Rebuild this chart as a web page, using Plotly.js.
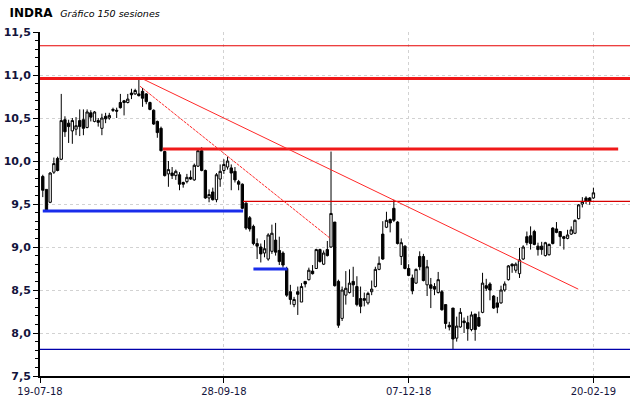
<!DOCTYPE html>
<html><head><meta charset="utf-8">
<script src="https://cdn.plot.ly/plotly-3.0.1.min.js"></script>
<style>html,body{margin:0;padding:0;background:#fff}#chart{width:640px;height:398px}</style>
</head><body><div id="chart"></div>
<script>
const openP = [9.82,9.67,9.52,9.87,10.03,10.02,10.48,10.44,10.35,10.37,10.47,10.48,10.39,10.56,10.46,10.47,10.38,10.52,10.50,10.60,
10.59,10.68,10.70,10.68,10.79,10.78,10.78,10.81,10.78,10.68,10.59,10.46,10.38,10.11,9.85,9.86,9.83,9.84,9.75,9.76,
9.81,9.78,9.94,10.12,9.89,9.57,9.64,9.55,9.79,9.89,9.93,9.92,9.88,9.76,9.73,9.51,9.34,9.24,9.04,9.00,
8.93,8.86,8.95,9.08,8.96,8.93,8.75,8.48,8.33,8.48,8.36,8.60,8.62,8.72,8.75,8.97,8.80,8.97,9.00,9.29,
8.60,8.17,8.44,8.47,8.60,8.54,8.40,8.40,8.35,8.48,8.54,8.74,9.15,9.23,9.32,9.45,9.29,8.89,9.01,8.75,
8.64,8.58,8.89,8.89,8.56,8.56,8.54,8.47,8.48,8.33,8.09,8.29,7.94,8.07,8.14,8.12,8.04,8.22,8.18,8.24,
8.55,8.57,8.43,8.35,8.35,8.50,8.62,8.80,8.73,8.69,8.86,9.12,9.13,9.18,9.01,9.01,8.90,8.91,9.22,9.21,
9.18,9.12,9.10,9.15,9.16,9.33,9.50,9.57,9.57,9.57];
const highP = [9.84,9.67,9.87,10.04,10.05,10.78,10.52,10.48,10.50,10.51,10.60,10.60,10.60,10.59,10.58,10.50,10.55,10.56,10.56,10.62,
10.62,10.78,10.71,10.78,10.84,10.84,10.97,10.85,10.79,10.69,10.60,10.47,10.40,10.12,10.00,9.93,9.90,9.87,9.76,9.85,
9.89,9.97,10.14,10.16,9.90,9.67,9.69,9.86,9.96,10.02,10.05,9.96,9.93,9.78,9.74,9.52,9.36,9.26,9.10,9.04,
9.08,9.16,9.26,9.28,9.12,8.95,8.77,8.56,8.42,8.54,8.58,8.60,8.76,8.79,8.98,8.98,8.96,9.07,10.11,9.29,
8.62,8.54,8.72,8.74,8.77,8.66,8.54,8.47,8.48,8.61,8.77,8.89,9.30,9.41,9.33,9.55,9.30,9.10,9.02,8.80,
8.68,8.75,8.95,8.92,8.85,8.64,8.58,8.71,8.50,8.33,8.13,8.29,8.19,8.29,8.18,8.20,8.25,8.22,8.25,8.70,
8.63,8.59,8.44,8.42,8.55,8.60,8.79,8.81,8.82,8.99,9.02,9.18,9.24,9.20,9.05,9.06,9.06,9.04,9.23,9.29,
9.18,9.13,9.20,9.24,9.32,9.50,9.58,9.59,9.58,9.69];
const lowP = [9.58,9.41,9.51,9.85,9.88,10.01,10.28,10.21,10.20,10.30,10.29,10.30,10.38,10.46,10.45,10.40,10.30,10.44,10.48,10.57,
10.50,10.61,10.53,10.67,10.72,10.77,10.75,10.63,10.66,10.59,10.42,10.27,10.11,9.82,9.70,9.79,9.78,9.66,9.69,9.74,
9.78,9.77,9.93,9.88,9.56,9.52,9.54,9.52,9.70,9.85,9.90,9.66,9.75,9.66,9.44,9.20,9.18,9.02,8.86,8.82,
8.88,8.84,8.92,8.90,8.79,8.76,8.42,8.33,8.30,8.21,8.36,8.53,8.61,8.68,8.75,8.82,8.79,8.89,8.99,8.54,
8.06,8.14,8.33,8.46,8.42,8.31,8.23,8.31,8.33,8.44,8.53,8.73,8.85,9.22,9.17,9.29,9.03,8.79,8.74,8.66,
8.45,8.57,8.73,8.60,8.43,8.29,8.44,8.46,8.26,8.05,8.03,7.81,7.90,8.06,8.00,7.91,8.02,7.91,8.07,8.23,
8.49,8.38,8.28,8.23,8.34,8.48,8.61,8.70,8.70,8.64,8.85,9.02,8.97,9.02,8.90,8.91,8.89,8.90,9.03,9.16,
9.01,8.97,9.09,9.14,9.15,9.32,9.46,9.50,9.49,9.56];
const closeP = [9.66,9.42,9.86,9.97,9.89,10.47,10.34,10.40,10.47,10.41,10.40,10.38,10.57,10.51,10.57,10.45,10.50,10.49,10.53,10.59,
10.58,10.62,10.68,10.72,10.77,10.82,10.76,10.73,10.69,10.60,10.43,10.33,10.12,9.83,9.90,9.83,9.88,9.73,9.73,9.81,
9.79,9.95,10.12,9.89,9.57,9.61,9.55,9.84,9.88,9.96,10.00,9.86,9.78,9.73,9.45,9.22,9.21,9.04,9.01,8.92,
8.98,9.14,9.16,8.94,8.83,8.79,8.44,8.39,8.39,8.45,8.54,8.57,8.73,8.69,8.97,8.83,8.93,8.90,9.39,8.55,
8.09,8.50,8.52,8.58,8.56,8.33,8.31,8.38,8.46,8.51,8.74,8.81,8.86,9.31,9.28,9.31,9.04,9.05,8.75,8.67,
8.49,8.74,8.77,8.61,8.77,8.52,8.51,8.62,8.27,8.11,8.07,7.93,8.08,8.24,8.12,8.05,8.21,8.04,8.08,8.58,
8.52,8.50,8.29,8.30,8.50,8.57,8.78,8.78,8.80,8.85,9.00,9.05,9.04,9.03,8.97,8.97,9.05,9.03,9.04,9.17,
9.12,9.10,9.14,9.20,9.31,9.49,9.53,9.53,9.53,9.63];

const tickPos = [-0.75, 49, 99, 149];
const tickLabels = ['19-07-18','28-09-18','07-12-18','20-02-19'];
const xSpan = [-0.75, 158.9];

// horizontal support / resistance levels: [value, startIndex, endIndex]
const resistThinTop = [11.34, -0.75, 158.9];
const resistThick1 = [10.96, -0.75, 158.9];
const resistThick2 = [10.14, 32.5, 155.7];
const resistThin2 = [9.53, 54.2, 158.9];
const supportBlue1 = [9.42, 0, 54.2];
const supportBlue2 = [8.745, 57, 66.2];
const supportLow = [7.81, -0.75, 158.9];
// trend lines
const trendSolidX = [26.3, 144.9], trendSolidY = [10.97, 8.51];
const trendDashX = [26.3, 77.8], trendDashY = [10.87, 9.10];

const idx = closeP.map((_, i) => i);

function hline(lv, color, width){
  return {type:'scatter', mode:'lines', x:[lv[1], lv[2]], y:[lv[0], lv[0]],
    line:{color:color, width:width}, hoverinfo:'skip', showlegend:false};
}

const traces = [
  hline(resistThinTop, 'rgb(230,0,0)', 1.2),
  hline(resistThick1, 'rgb(240,25,25)', 3),
  hline(resistThick2, 'rgb(240,25,25)', 3),
  hline(resistThin2, 'rgb(215,0,0)', 1.2),
  hline(supportBlue1, 'rgb(25,45,235)', 3),
  hline(supportBlue2, 'rgb(25,45,235)', 3),
  hline(supportLow, 'rgb(0,0,170)', 1.3),
  {type:'scatter', mode:'lines', x:trendSolidX, y:trendSolidY, line:{color:'rgb(255,40,40)', width:1}, hoverinfo:'skip', showlegend:false},
  {type:'scatter', mode:'lines', x:trendDashX, y:trendDashY, line:{color:'rgb(255,40,40)', width:1, dash:'3px,1px'}, hoverinfo:'skip', showlegend:false},
  {type:'candlestick', x:idx, open:openP, high:highP, low:lowP, close:closeP,
    increasing:{line:{color:'#000', width:1}, fillcolor:'#fff'},
    decreasing:{line:{color:'#000', width:1}, fillcolor:'#000'},
    whiskerwidth:0, hoverinfo:'skip', showlegend:false}
];

const layout = {
  width:640, height:398,
  margin:{l:40, r:10, t:32, b:22, pad:0},
  paper_bgcolor:'#fff', plot_bgcolor:'#fff',
  separators:',.',
  showlegend:false,
  boxgap:0.1,
  title:{text:"<b>INDRA</b>  <span style='font-size:9.5px'><i>Gráfico 150 sesiones</i></span>",
    x:0.015, xanchor:'left', y:0.968, yanchor:'middle',
    font:{family:'DejaVu Sans', size:12, color:'#000'}},
  xaxis:{range:xSpan, rangeslider:{visible:false}, tickmode:'array', tickvals:tickPos, ticktext:tickLabels,
    showgrid:true, gridcolor:'#d2d2d2', griddash:'dot', gridwidth:1,
    showline:true, linecolor:'#000', linewidth:2, ticks:'outside', ticklen:5, tickcolor:'#000',
    tickfont:{family:'DejaVu Sans', size:10, color:'#14143c'}, zeroline:false, fixedrange:true},
  yaxis:{range:[7.5,11.5], dtick:0.5, tick0:7.5, tickformat:'.1f',
    showgrid:true, gridcolor:'#d2d2d2', griddash:'dot', gridwidth:1,
    showline:true, linecolor:'#000', linewidth:2, ticks:'outside', ticklen:5, tickcolor:'#000',
    minor:{dtick:0.1, ticks:'outside', ticklen:3, tickcolor:'#000', showgrid:false},
    tickfont:{family:'DejaVu Sans', size:11, color:'#14143c', weight:'bold'}, zeroline:false, fixedrange:true}
};

Plotly.newPlot('chart', traces, layout, {staticPlot:true, displayModeBar:false});
</script></body></html>
